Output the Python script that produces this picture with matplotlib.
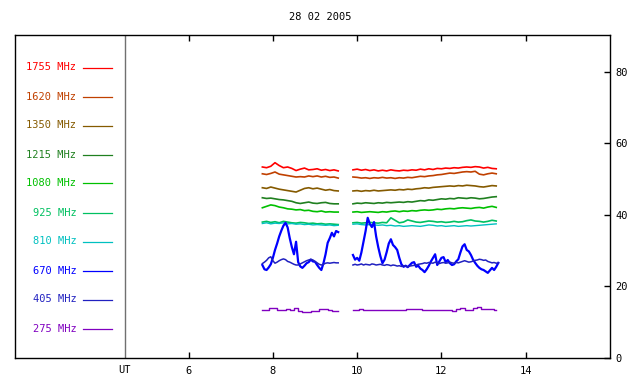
import numpy as np
import matplotlib
matplotlib.use("Agg")
import matplotlib.pyplot as plt
from matplotlib.lines import Line2D

title = "28 02 2005"
freq_labels = ["1755 MHz", "1620 MHz", "1350 MHz", "1215 MHz", "1080 MHz",
               "925 MHz", "810 MHz", "670 MHz", "405 MHz", "275 MHz"]
colors = ["#ff0000", "#c04000", "#855a00", "#208020", "#00c000",
          "#00c060", "#00c0c0", "#0000ff", "#2020c0", "#8000c0"]
x_ticks = [6, 8, 10, 12, 14]
y_ticks = [0, 20, 40, 60, 80]

# time grids (UT hours)
t_a1 = np.linspace(7.75, 9.55, 19)
t_a2 = np.linspace(9.90, 13.30, 35)
t_b1 = np.linspace(7.75, 9.55, 37)
t_b2 = np.linspace(9.90, 13.35, 70)

f1755_1 = [53.4, 53.2, 53.6, 54.6, 53.8, 53.2, 53.4, 53.0, 52.4, 52.8, 53.1, 52.6, 52.7, 52.9, 52.5, 52.7, 52.4, 52.6, 52.3]
f1755_2 = [52.6, 52.8, 52.5, 52.7, 52.4, 52.6, 52.3, 52.5, 52.3, 52.6, 52.4, 52.3, 52.5, 52.4, 52.6, 52.5, 52.8, 52.6, 52.9, 52.7,
           53.0, 52.9, 53.1, 53.0, 53.2, 53.1, 53.3, 53.4, 53.3, 53.5, 53.4, 53.1, 53.3, 53.0, 52.9]
f1620_1 = [51.5, 51.3, 51.6, 52.0, 51.4, 51.2, 51.0, 50.8, 50.6, 50.7, 50.6, 50.9, 50.7, 50.9, 50.6, 50.8, 50.5, 50.6, 50.3]
f1620_2 = [50.6, 50.5, 50.3, 50.4, 50.2, 50.4, 50.3, 50.5, 50.3, 50.4, 50.2, 50.4, 50.3, 50.5, 50.4, 50.6, 50.8, 50.7, 50.9, 51.0,
           51.2, 51.3, 51.5, 51.7, 51.6, 51.8, 52.0, 52.1, 52.0, 52.2, 51.4, 51.2, 51.5, 51.7, 51.5]
f1350_1 = [47.6, 47.4, 47.8, 47.5, 47.2, 47.0, 46.8, 46.6, 46.4, 46.9, 47.4, 47.6, 47.3, 47.5, 47.2, 46.9, 47.1, 46.8, 46.7]
f1350_2 = [46.7, 46.8, 46.6, 46.8, 46.7, 46.9, 46.7, 46.8, 46.9, 47.0, 46.9, 47.1, 47.0, 47.2, 47.1, 47.3, 47.4, 47.6, 47.5, 47.7,
           47.8, 47.9, 48.0, 48.1, 48.0, 48.2, 48.1, 48.3, 48.2, 48.1, 47.9, 47.8, 48.0, 48.2, 48.1]
f1215_1 = [44.8, 44.6, 44.7, 44.5, 44.3, 44.2, 44.0, 43.8, 43.4, 43.2, 43.4, 43.6, 43.3, 43.2, 43.4, 43.5, 43.2, 43.1, 43.1]
f1215_2 = [43.1, 43.3, 43.2, 43.4, 43.3, 43.2, 43.4, 43.3, 43.5, 43.4, 43.5, 43.6, 43.5, 43.7, 43.6, 43.8, 44.0, 43.9, 44.2, 44.1,
           44.3, 44.5, 44.4, 44.6, 44.5, 44.8, 44.7, 44.6, 44.8, 44.7, 44.5, 44.6, 44.8, 45.0, 45.1]
f1080_1 = [42.0, 42.4, 42.8, 42.6, 42.2, 42.0, 41.7, 41.6, 41.4, 41.5, 41.2, 41.3, 41.0, 40.9, 41.1, 40.8, 40.9, 40.8, 40.8]
f1080_2 = [40.8, 40.9, 40.7, 40.8, 40.9, 40.8, 40.7, 40.9, 40.8, 41.0, 41.1, 40.9, 41.1, 41.0, 41.2, 41.1, 41.3, 41.4, 41.3, 41.4,
           41.6, 41.5, 41.7, 41.8, 41.7, 41.9, 42.0, 41.9, 41.8, 42.0, 42.1, 41.9, 42.2, 42.4, 42.1]
f925_1 = [38.0, 38.2, 37.9, 38.1, 37.8, 38.2, 38.0, 37.8, 37.7, 37.9, 37.8, 37.6, 37.7, 37.5, 37.6, 37.4, 37.5, 37.4, 37.3]
f925_2 = [37.8, 37.9, 37.7, 37.8, 37.9, 37.8, 37.7, 37.9, 37.8, 39.2, 38.5, 37.8, 38.0, 38.6, 38.3, 38.0, 37.9, 38.1, 38.3, 38.2,
          38.0, 38.1, 37.9, 38.0, 38.2, 38.0, 38.1, 38.4, 38.6, 38.3, 38.2, 38.0, 38.2, 38.5, 38.3]
f810_1 = [37.6, 37.8, 37.5, 37.7, 37.6, 37.8, 37.5, 37.6, 37.4, 37.5, 37.3, 37.4, 37.2, 37.3, 37.2, 37.1, 37.2, 37.0, 37.1]
f810_2 = [37.4, 37.5, 37.3, 37.2, 37.3, 37.2, 37.1, 37.2, 37.0, 37.1, 36.9, 37.0, 36.8, 36.9, 37.0, 36.9, 36.8, 37.0, 37.2, 37.1,
          36.9, 37.0, 36.8, 36.9, 37.0, 36.8, 36.9, 37.0, 36.9, 37.0, 37.1, 37.2, 37.3, 37.4, 37.5]
f670_1 = [26.0, 24.8, 24.6, 25.3, 26.2, 28.0, 30.2, 32.0, 34.0, 35.6, 37.0, 37.8, 36.5, 33.5, 31.0, 29.0, 32.5, 26.8, 25.6, 25.2,
          25.8, 26.5, 26.8, 27.5, 27.0, 26.9, 26.0, 25.2, 24.6, 26.5, 29.0, 32.2, 33.5, 35.0, 34.0, 35.5, 35.2]
f670_2 = [28.8, 27.5, 28.0, 27.2, 29.5, 32.5, 35.5, 39.2, 37.5, 36.6, 38.0, 34.0, 31.0, 28.5, 26.5, 27.5, 29.6, 32.0, 33.2, 31.6,
          31.0, 30.2, 28.0, 26.2, 25.5, 25.8, 25.4, 26.0, 26.6, 26.8, 25.5, 25.8, 25.0, 24.6, 24.0, 24.8, 25.8, 27.0, 28.0, 29.0,
          26.0, 27.0, 28.0, 28.2, 26.8, 27.4, 26.5, 26.0, 26.2, 27.0, 27.6, 29.5, 31.2, 31.8, 30.2, 29.8, 28.8, 27.5, 26.6, 25.8,
          25.2, 24.8, 24.6, 24.2, 23.8, 24.5, 25.2, 24.6, 25.5, 26.6]
f405_1 = [26.4, 26.8, 27.3, 28.0, 28.3, 27.2, 26.5, 26.8, 27.2, 27.5, 27.7, 27.5, 27.0, 26.8, 26.5, 26.2, 26.0, 26.0, 26.3, 26.6,
          26.9, 27.2, 27.4, 27.6, 27.4, 27.0, 26.6, 26.2, 26.0, 26.2, 26.5, 26.6, 26.5, 26.6, 26.7, 26.6, 26.6]
f405_2 = [26.0, 26.2, 26.0, 26.1, 26.3, 26.0, 26.2, 26.1, 26.0, 26.3, 26.2, 26.0, 26.1,
          26.2, 26.0, 25.9, 26.1, 26.0, 25.8, 26.0, 25.9, 25.7, 25.8, 25.6, 25.8, 25.7, 25.5, 25.7, 25.8, 25.9, 26.0, 26.2, 26.3,
          26.4, 26.6, 26.5, 26.7, 26.6, 26.5, 26.8, 26.6, 26.4, 26.6, 26.7, 26.5, 26.6, 26.8, 26.6, 26.5, 26.7, 26.6, 26.8, 27.0,
          27.2, 27.0, 26.8, 26.9, 27.1, 27.3,
          27.4, 27.6, 27.5, 27.3, 27.4, 27.0, 26.8, 26.6, 26.7, 26.5, 26.6]
f275_1 = [13.4, 13.4, 14.0, 14.0, 13.4, 13.4, 13.7, 13.4, 14.0, 13.1, 12.9, 12.9, 13.1, 13.1, 13.7, 13.7, 13.4, 13.1, 13.1]
f275_2 = [13.4, 13.4, 13.7, 13.4, 13.4, 13.4, 13.4, 13.4, 13.4, 13.4, 13.4, 13.4, 13.4, 13.7, 13.7, 13.7, 13.7, 13.4, 13.4, 13.4,
          13.4, 13.4, 13.4, 13.4, 13.1, 13.7, 14.0, 13.4, 13.4, 14.0, 14.2, 13.7, 13.7, 13.6, 13.4]

series = [
    (t_a1, t_a2, f1755_1, f1755_2, 1.2, "default"),
    (t_a1, t_a2, f1620_1, f1620_2, 1.2, "default"),
    (t_a1, t_a2, f1350_1, f1350_2, 1.2, "default"),
    (t_a1, t_a2, f1215_1, f1215_2, 1.2, "default"),
    (t_a1, t_a2, f1080_1, f1080_2, 1.2, "default"),
    (t_a1, t_a2, f925_1, f925_2, 1.2, "default"),
    (t_a1, t_a2, f810_1, f810_2, 1.0, "default"),
    (t_b1, t_b2, f670_1, f670_2, 1.6, "default"),
    (t_b1, t_b2, f405_1, f405_2, 1.1, "default"),
    (t_a1, t_a2, f275_1, f275_2, 1.0, "steps-mid"),
]

W, H = 640, 384
fig = plt.figure(figsize=(W / 100, H / 100), dpi=100)
fig.patch.set_facecolor("white")
mono = "DejaVu Sans Mono"

L, R, T, B = 15, 610, 35, 358
ax = fig.add_axes([L / W, 1 - B / H, (R - L) / W, (B - T) / H])
ax.set_xlim(1.88, 16.0)
ax.set_ylim(0, 90.3)

order = list(range(len(series)))[::-1]
for i in order:
    ta, tb, va, vb, lw, ds = series[i]
    ax.plot(ta, va, color=colors[i], lw=lw, drawstyle=ds, zorder=3 + i * 0.01)
    ax.plot(tb, vb, color=colors[i], lw=lw, drawstyle=ds, zorder=3 + i * 0.01)

ax.axvline(4.49, color="#707070", lw=1.0, zorder=2)

for s in ax.spines.values():
    s.set_color("black")
    s.set_linewidth(1.0)

ax.set_xticks(x_ticks)
ax.set_xticklabels([str(v) for v in x_ticks])
ax.tick_params(axis="x", direction="in", top=True, bottom=True, length=4,
               width=1, pad=6, labelsize=7.5)
ax.set_yticks(y_ticks)
ax.set_yticklabels([str(v) for v in y_ticks])
ax.yaxis.tick_right()
ax.tick_params(axis="y", direction="in", left=False, right=True, length=4,
               width=1, pad=4, labelsize=7.5)
for lab in ax.get_xticklabels() + ax.get_yticklabels():
    lab.set_family(mono)

ax.text(4.49, -0.022, "UT", transform=ax.get_xaxis_transform(),
        ha="center", va="top", fontsize=7.5, family=mono)

fig.text(0.5, 1 - 17 / H, title, ha="center", va="center", fontsize=7.5, family=mono)

# left legend panel
y0, dy = 67.5, 29.0
for k, (lab, c) in enumerate(zip(freq_labels, colors)):
    yp = 1 - (y0 + k * dy) / H
    fig.text(76.5 / W, yp, lab, ha="right", va="center", color=c, fontsize=7.5, family=mono)
    fig.add_artist(Line2D([83 / W, 112 / W], [yp, yp], color=c, lw=0.9,
                          transform=fig.transFigure))

fig.savefig("out.png", dpi=100, facecolor="white")
